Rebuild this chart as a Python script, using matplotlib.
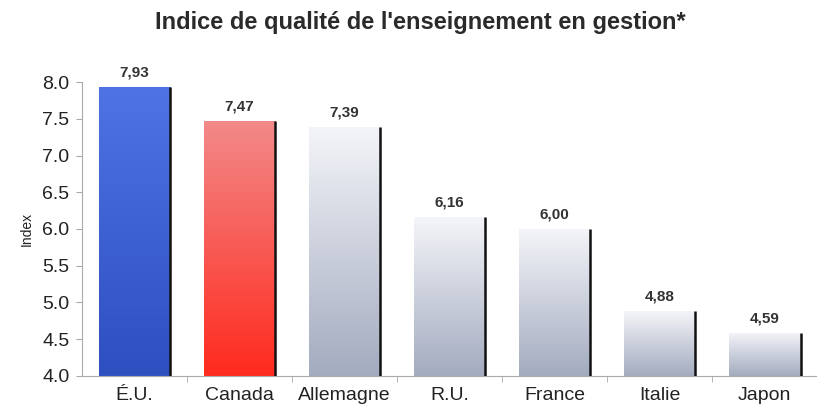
import numpy as np
import matplotlib.pyplot as plt
from matplotlib.colors import LinearSegmentedColormap

plt.rcParams['font.family'] = ['Liberation Sans', 'DejaVu Sans']

categories = ["É.U.", "Canada", "Allemagne", "R.U.", "France", "Italie", "Japon"]
values = [7.93, 7.47, 7.39, 6.16, 6.00, 4.88, 4.59]
value_labels = ["7,93", "7,47", "7,39", "6,16", "6,00", "4,88", "4,59"]
yticks = [4.0, 4.5, 5.0, 5.5, 6.0, 6.5, 7.0, 7.5, 8.0]

grad_blue = ("#2d4fc0", "#4f73e2")
grad_red = ("#ff2a1e", "#f28a8a")
grad_grey = ("#a3abbf", "#f4f5f9")
grads = [grad_blue, grad_red] + [grad_grey] * 5

fig = plt.figure(figsize=(8.17, 4.09), dpi=100)
ax = fig.add_axes([0.1004, 0.0807, 0.9, 0.7188])

ymin = 4.0
width = 0.68
x = np.arange(len(categories))
bars = ax.bar(x, [v - ymin for v in values], width=width, bottom=ymin,
              color="none", edgecolor="none", zorder=2)

for b, v, (c0, c1) in zip(bars, values, grads):
    cmap = LinearSegmentedColormap.from_list("g", [c0, c1])
    grad = np.linspace(0, 1, 256).reshape(-1, 1)
    x0 = b.get_x()
    x1 = x0 + b.get_width()
    im = ax.imshow(grad, cmap=cmap, origin="lower", aspect="auto",
                   extent=[x0, x1, ymin, v], zorder=2, interpolation="bicubic")
    im.set_clip_path(b)
    ax.plot([x1, x1], [ymin, v], color="#111111", lw=1.8, zorder=3,
            solid_capstyle="butt")

for xi, v, lab in zip(x, values, value_labels):
    ax.text(xi, v + 0.1, lab, ha="center", va="bottom", fontsize=11,
            fontweight="bold", color="#333333")

ax.set_xlim(-0.5, len(categories) - 0.5)
ax.set_ylim(4.0, 8.0)
ax.set_yticks(yticks)
ax.set_yticklabels([f"{t:.1f}" for t in yticks], fontsize=14, color="#222222")
ax.set_xticks(x)
ax.set_xticklabels(categories, fontsize=14, color="#222222")
ax.set_xticks(np.arange(0.5, len(categories) - 0.5, 1), minor=True)
ax.tick_params(axis="x", which="major", length=0, pad=8)
ax.tick_params(axis="x", which="minor", length=4, color="#aaaaaa", direction="out")
ax.tick_params(axis="y", length=4, color="#aaaaaa", pad=5)

for s in ["top", "right"]:
    ax.spines[s].set_visible(False)
ax.spines["left"].set_color("#aaaaaa")
ax.spines["bottom"].set_color("#aaaaaa")

ax.set_ylabel("Index", fontsize=10, fontstretch="condensed", color="#222222", labelpad=6)

fig.text(0.515, 0.945, "Indice de qualité de l'enseignement en gestion*",
         ha="center", va="center", fontsize=17, fontweight="bold", color="#2a2a2a")

fig.savefig("out.png", dpi=100)
